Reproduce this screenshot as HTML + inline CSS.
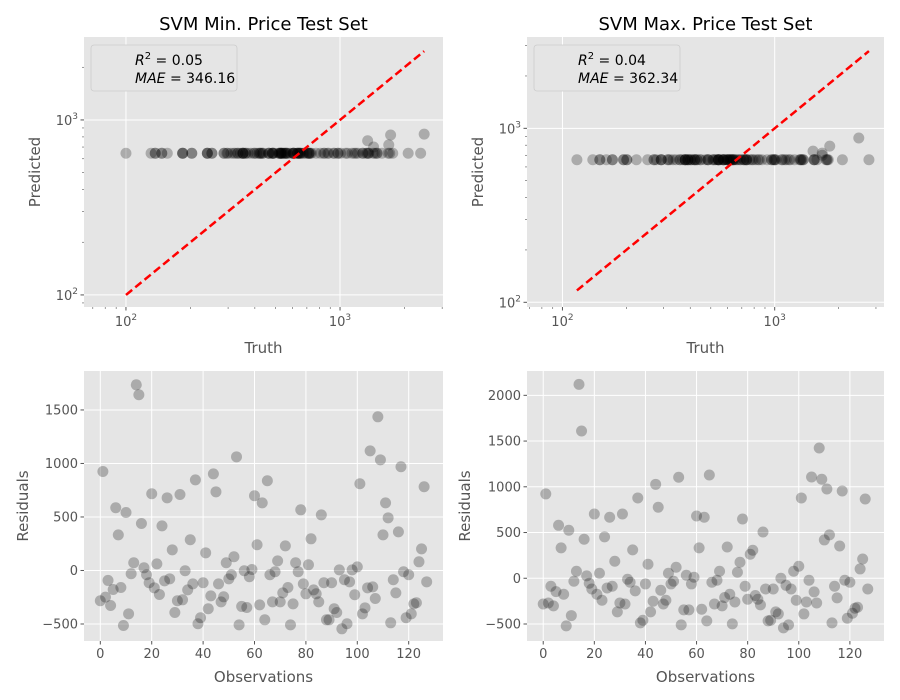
<!DOCTYPE html>
<html><head><meta charset="utf-8"><style>
body{margin:0;background:#fff;}
svg{display:block;font-family:"DejaVu Sans","Liberation Sans",sans-serif;}
</style></head><body>
<svg id="fig" width="900" height="700"></svg>
<script>
const residL=[-283,925,-249,-93,-327,-178,586,333,-159,-514,542,-405,-31,72,1735,1642,439,25,-40,-115,717,-162,62,-224,417,-97,679,-78,193,-393,-283,710,-274,-3,-181,287,-125,847,-498,-442,-115,165,-358,-237,903,735,-125,-293,-246,72,-78,-40,128,1062,-508,-336,-3,-346,-59,9,698,240,-321,632,-461,838,-40,-293,-12,90,-293,-209,230,-159,-508,-312,72,-12,567,-125,-218,53,296,-181,-218,-293,520,-115,-461,-461,-115,-358,-393,6,-545,-87,-498,-106,6,-227,34,810,-405,-349,-162,1118,-153,-262,1436,1034,333,632,492,-489,-87,-209,361,969,-12,-442,-40,-405,-312,-302,81,202,782,-106];
const residR=[-281,922,-270,-87,-302,-146,579,332,-175,-521,525,-408,-33,77,2120,1610,426,26,-55,-117,703,-175,55,-240,452,-106,667,-87,186,-368,-270,703,-281,-11,-44,310,-138,878,-488,-459,-62,153,-368,-251,1027,776,-131,-281,-240,55,-62,-33,120,1104,-510,-346,33,-346,-62,11,681,332,-339,667,-466,1129,-44,-281,-22,77,-302,-211,342,-175,-499,-259,66,175,648,-87,-230,262,306,-189,-230,-291,506,-117,-466,-459,-117,-368,-390,0,-543,-77,-510,-117,77,-240,131,878,-390,-259,-22,1107,-149,-270,1424,1082,419,976,474,-488,-87,-215,353,954,-22,-437,-44,-383,-328,-317,102,211,867,-117];
const predBaseL=645, predBaseR=660;
const predRaisedL={15:830,6:760,44:820,117:720,45:700};
const predRaisedR={15:880,44:790,45:740,117:720,111:700};
const logTicks=[100,1000];
const resTicksL=[-500,0,500,1000,1500];
const resTicksR=[-500,0,500,1000,1500,2000];
const obsTicks=[0,20,40,60,80,100,120];
const NS="http://www.w3.org/2000/svg";
const svg=document.getElementById('fig');
function el(tag,attrs,parent,text){const e=document.createElementNS(NS,tag);for(const k in attrs)e.setAttribute(k,attrs[k]);if(text!==undefined)e.textContent=text;(parent||svg).appendChild(e);return e;}
function linScale(d0,d1,r0,r1){return v=>r0+(v-d0)/(d1-d0)*(r1-r0);}
function logScale(l0,l1,r0,r1){return v=>r0+(Math.log10(v)-l0)/(l1-l0)*(r1-r0);}
function frame(g,x0,y0,x1,y1){const r=el('rect',{x:x0,y:y0,width:x1-x0,height:y1-y0,fill:'#E5E5E5'},g);}
function texts(g,x,y,t,anchor,size,fill,extra){const a=Object.assign({x:x,y:y,'text-anchor':anchor,'font-size':size,fill:fill},extra||{});return el('text',a,g,t);}
function pow10Label(g,x,y,exp,anchor){const t=el('text',{x:x,y:y,'text-anchor':anchor,'font-size':13,fill:'#555'},g);el('tspan',{},t,'10');el('tspan',{dy:-6,'font-size':9},t,String(exp));return t;}

function scatterPanel(px,title,resid,base,raised,X,Y,leg,legR2,legMAE){
  const g=el('g',{});
  frame(g,px.x0,px.y0,px.x1,px.y1);
  const sx=logScale(X[0],X[1],px.x0,px.x1), sy=logScale(Y[0],Y[1],px.y1,px.y0);
  for(let d=1;d<=3;d++){for(let m=2;m<=9;m++){const v=m*Math.pow(10,d);
    const lx=Math.log10(v); if(lx>X[0]&&lx<X[1]) el('line',{x1:sx(v),x2:sx(v),y1:px.y1,y2:px.y1+2,stroke:'#555','stroke-width':0.6},g);
    if(lx>Y[0]&&lx<Y[1]) el('line',{x1:px.x0,x2:px.x0-2,y1:sy(v),y2:sy(v),stroke:'#555','stroke-width':0.6},g);}}
  logTicks.forEach(v=>{
    el('line',{x1:sx(v),x2:sx(v),y1:px.y0,y2:px.y1,stroke:'#fff','stroke-width':1},g);
    el('line',{x1:px.x0,x2:px.x1,y1:sy(v),y2:sy(v),stroke:'#fff','stroke-width':1},g);
    el('line',{x1:sx(v),x2:sx(v),y1:px.y1,y2:px.y1+3.5,stroke:'#555'},g);
    el('line',{x1:px.x0,x2:px.x0-3.5,y1:sy(v),y2:sy(v),stroke:'#555'},g);
    const xl=pow10Label(g,sx(v),px.y1+19,Math.round(Math.log10(v)),'middle');
    const yl=pow10Label(g,px.x0-6,sy(v)+5,Math.round(Math.log10(v)),'end');
  });
  const truth=[],pred=[];
  resid.forEach((r,i)=>{const p=raised[i]!==undefined?raised[i]:base;pred.push(p);truth.push(p+r);});
  truth.forEach((t,i)=>{const c=el('circle',{cx:sx(t),cy:sy(pred[i]),r:5.5,fill:'#000','fill-opacity':0.25},g);
    });
  const mn=Math.min(...truth),mx=Math.max(...truth);
  const ln=el('line',{x1:sx(mn),y1:sy(mn),x2:sx(mx),y2:sy(mx),stroke:'#f00','stroke-width':2.5,'stroke-dasharray':'8,4'},g);
  
  const lb=el('rect',{x:leg,y:px.y0+8,width:146,height:46,rx:3,fill:'#E5E5E5',stroke:'#ccc','stroke-width':0.8},g);
  
  const t1=el('text',{x:leg+44,y:px.y0+28,'font-size':14,fill:'#000'},g);
  
  el('tspan',{'font-style':'italic'},t1,'R');el('tspan',{dy:-6,'font-size':10},t1,'2');el('tspan',{dy:6},t1,' = '+legR2);
  const t2=el('text',{x:leg+44,y:px.y0+46,'font-size':14,fill:'#000'},g);
  
  el('tspan',{'font-style':'italic'},t2,'MAE');el('tspan',{},t2,' = '+legMAE);
  const tt=texts(g,(px.x0+px.x1)/2,30,title,'middle',18,'#000');
  const xt=texts(g,(px.x0+px.x1)/2,353,'Truth','middle',15,'#555');
  const cy=(px.y0+px.y1)/2;const yt=texts(g,px.x0-44,cy,'Predicted','middle',15,'#555',{transform:`rotate(-90 ${px.x0-44} ${cy})`});
  
}
function residPanel(px,resid,Y,ticks,ylabX){
  const g=el('g',{});
  frame(g,px.x0,px.y0,px.x1,px.y1);
  const n=resid.length;const pad=(n-1)*0.05;
  const sx=linScale(-pad,n-1+pad,px.x0,px.x1), sy=linScale(Y[0],Y[1],px.y1,px.y0);
  obsTicks.forEach(v=>{el('line',{x1:sx(v),x2:sx(v),y1:px.y0,y2:px.y1,stroke:'#fff'},g);
    el('line',{x1:sx(v),x2:sx(v),y1:px.y1,y2:px.y1+3.5,stroke:'#555'},g);
    const l=texts(g,sx(v),px.y1+17,String(v),'middle',13,'#555');});
  ticks.forEach(v=>{el('line',{x1:px.x0,x2:px.x1,y1:sy(v),y2:sy(v),stroke:'#fff'},g);
    el('line',{x1:px.x0,x2:px.x0-3.5,y1:sy(v),y2:sy(v),stroke:'#555'},g);
    const l=texts(g,px.x0-6,sy(v)+4.5,String(v).replace('-','−'),'end',13,'#555');});
  resid.forEach((r,i)=>{const c=el('circle',{cx:sx(i),cy:sy(r),r:5.5,fill:'#000','fill-opacity':0.25},g);
    });
  const xt=texts(g,(px.x0+px.x1)/2,682,'Observations','middle',15,'#555');
  const cy=(px.y0+px.y1)/2;const yt=texts(g,ylabX,cy,'Residuals','middle',15,'#555',{transform:`rotate(-90 ${ylabX} ${cy})`});
  
}
scatterPanel({name:'min-price-scatter',x0:84,y0:37,x1:443,y1:307},'SVM Min. Price Test Set',residL,predBaseL,predRaisedL,[1.804,3.481],[1.931,3.474],91,'0.05','346.16');
scatterPanel({name:'max-price-scatter',x0:527,y0:37,x1:884,y1:307},'SVM Max. Price Test Set',residR,predBaseR,predRaisedR,[1.833,3.515],[1.973,3.525],534,'0.04','362.34');
residPanel({name:'min-price-residuals',x0:84,y0:371,x1:443,y1:641},residL,[-659,1864],resTicksL,28);
residPanel({name:'max-price-residuals',x0:527,y0:371,x1:884,y1:641},residR,[-686,2266],resTicksR,470);
</script>
</body></html>
